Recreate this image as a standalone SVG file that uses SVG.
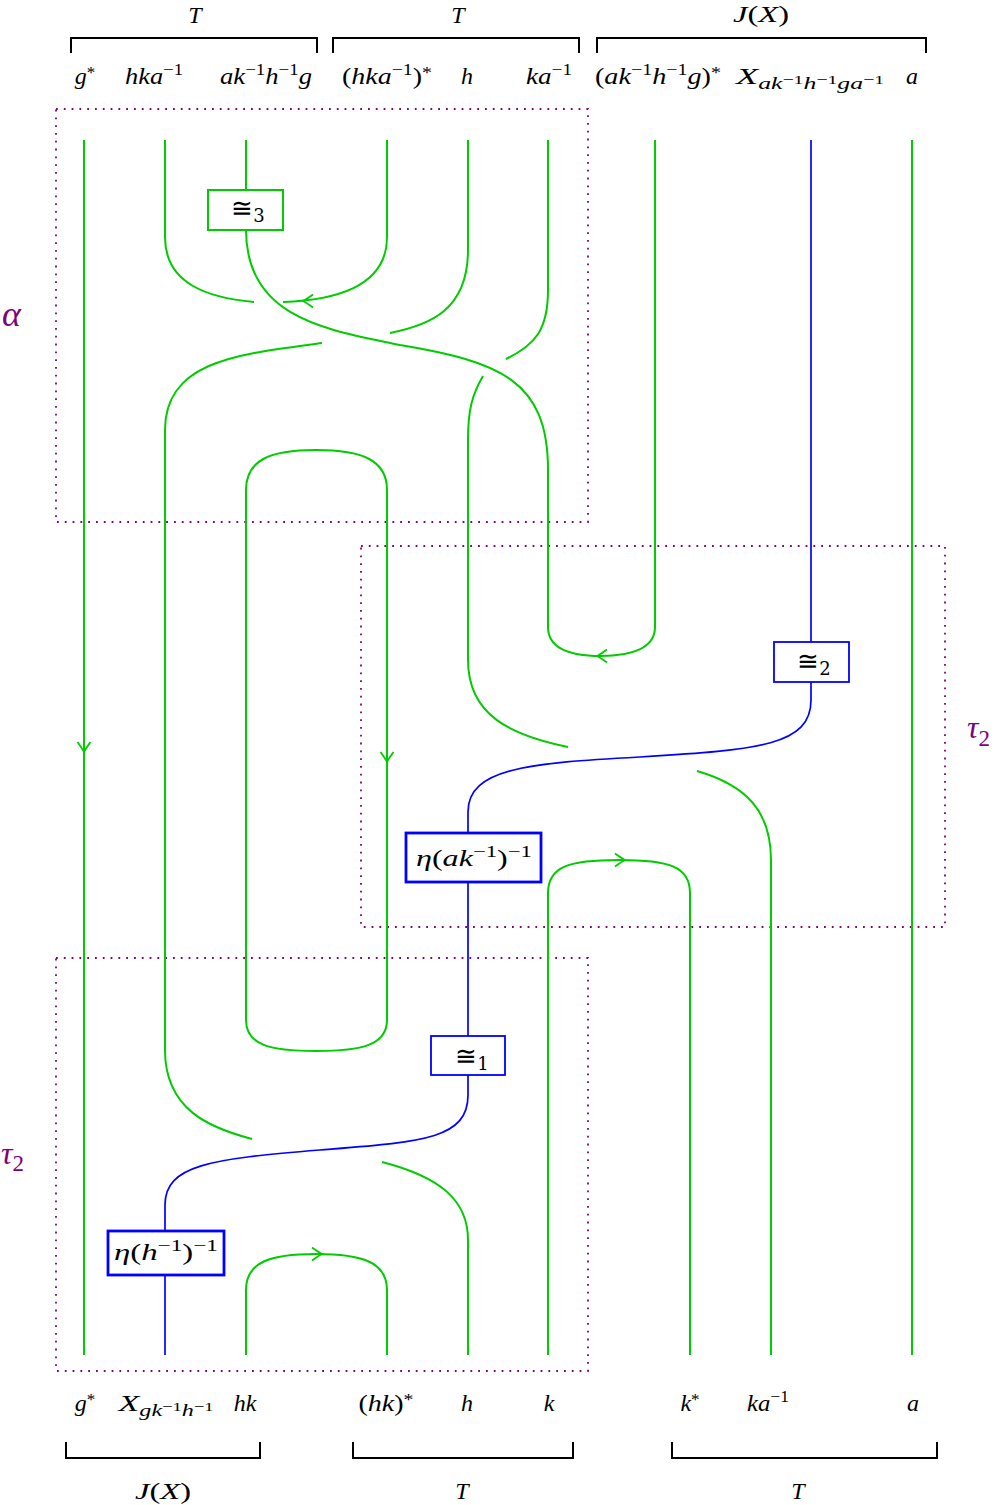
<svg xmlns="http://www.w3.org/2000/svg" xmlns:xlink="http://www.w3.org/1999/xlink" width="1000" height="1505" viewBox="0 0 1000 1505">
<style>
.g{fill:none;stroke:#00cc00;stroke-width:2}
.b{fill:none;stroke:#0000ff;stroke-width:1.7}
.bx{fill:#fff;stroke:#0000ff;stroke-width:1.8}
.bxt{fill:#fff;stroke:#0000ff;stroke-width:2.8}
.gx{fill:#fff;stroke:#00cc00;stroke-width:2}
.dot{fill:none;stroke:#800080;stroke-width:1.8;stroke-dasharray:1.8 6;stroke-linecap:butt}
.br{fill:none;stroke:#000;stroke-width:2}
.t{font-family:"Liberation Serif","DejaVu Serif",serif;font-style:italic;font-size:24px;fill:#000}
.u{font-style:normal}
.s{font-size:17px}
.ss{font-size:13px}
.iso{font-family:"DejaVu Serif","Liberation Serif",serif;font-size:26px;fill:#000}
.p{font-family:"Liberation Serif","DejaVu Serif",serif;font-style:italic;fill:#800080}
.ar{fill:none;stroke:#00cc00;stroke-width:1.8}
</style>
<defs>
<path id="ah" d="M-10,-6.5 Q-3,-1.5 0,0 Q-3,1.5 -10,6.5"/>
</defs>
<rect width="1000" height="1505" fill="#fff"/>

<g id="regions">
<rect class="dot" x="56" y="109" width="532" height="413"/>
<rect class="dot" x="361" y="546" width="584" height="381"/>
<rect class="dot" x="56" y="958" width="532" height="413"/>
<text class="p" x="2" y="326" font-size="36">α</text>
<text class="p" x="967" y="738" font-size="32">τ<tspan class="u" font-size="23" dy="8">2</tspan></text>
<text class="p" x="1" y="1164" font-size="32">τ<tspan class="u" font-size="23" dy="7">2</tspan></text>
</g>

<g id="brackets">
<path class="br" d="M71,53 V38 H317 V53"/>
<path class="br" d="M333,53 V38 H579 V53"/>
<path class="br" d="M597,53 V38 H926 V53"/>
<path class="br" d="M66,1442 V1458 H260 V1442"/>
<path class="br" d="M353,1442 V1458 H573 V1442"/>
<path class="br" d="M672,1442 V1458 H937 V1442"/>
</g>

<g id="connectors">
<path class="g" d="M84,140 L84,1355"/>
<path class="g" d="M912,140 L912,1355"/>
<path class="g" d="M165,140 L165,237 C165,285 210,298 254,302"/>
<path class="g" d="M283,302 C340,300 387,285 387,237 L387,140"/>
<path class="g" d="M246,140 L246,190"/>
<path class="g" d="M246,230 C246,320 330,330 400,345 C500,362 548,380 548,470 L548,627 C548,648 570,656 601,656 C632,656 655,648 655,627 L655,140"/>
<path class="g" d="M468,140 L468,250 C468,310 430,325 390,333"/>
<path class="g" d="M322,343 C240,354 165,360 165,430 L165,1050 C165,1110 210,1128 252,1139"/>
<path class="g" d="M382,1162 C440,1177 468,1200 468,1240 L468,1355"/>
<path class="g" d="M548,140 L548,290 C548,330 535,345 506,359"/>
<path class="g" d="M483,376 C472,395 468,410 468,440 L468,660 C468,715 510,735 568,747"/>
<path class="g" d="M697,771 C745,785 771,810 771,860 L771,1355"/>
<path class="g" d="M246,490 L246,1020 C246,1045 270,1051 316,1051 C362,1051 387,1045 387,1020 L387,490 C387,460 362,450 316,450 C270,450 246,460 246,490 Z"/>
<path class="g" d="M548,1355 L548,893 C548,866 570,860 619,860 C668,860 690,866 690,893 L690,1355"/>
<path class="g" d="M246,1355 L246,1290 C246,1262 270,1254 316,1254 C362,1254 387,1262 387,1290 L387,1355"/>
<path class="b" d="M811,140 L811,642"/>
<path class="b" d="M811,682 L811,700 C811,745 760,750 640,757 C530,763 468,768 468,812 L468,833"/>
<path class="b" d="M468,882 L468,1036"/>
<path class="b" d="M468,1075 L468,1095 C468,1140 420,1142 320,1150 C210,1159 165,1165 165,1205 L165,1231"/>
<path class="b" d="M165,1275 L165,1355"/>
<use xlink:href="#ah" class="ar" transform="translate(84,752) rotate(90)"/>
<use xlink:href="#ah" class="ar" transform="translate(387,762) rotate(90)"/>
<use xlink:href="#ah" class="ar" transform="translate(303,301) rotate(180)"/>
<use xlink:href="#ah" class="ar" transform="translate(597,656) rotate(180)"/>
<use xlink:href="#ah" class="ar" transform="translate(625,860)"/>
<use xlink:href="#ah" class="ar" transform="translate(322,1254)"/>
</g>

<g id="iso3">
<rect class="gx" x="208" y="190" width="75" height="40"/>
<text class="iso" x="248" y="217" text-anchor="middle">≅<tspan font-size="18" dy="5">3</tspan></text>
</g>
<g id="iso2">
<rect class="bx" x="774" y="642" width="75" height="40"/>
<text class="iso" x="814" y="670" text-anchor="middle">≅<tspan font-size="18" dy="5">2</tspan></text>
</g>
<g id="iso1">
<rect class="bx" x="431" y="1036" width="74" height="39"/>
<text class="iso" x="472" y="1065" text-anchor="middle">≅<tspan font-size="18" dy="5">1</tspan></text>
</g>
<g id="eta1">
<rect class="bxt" x="406" y="833" width="135" height="49"/>
<text class="t" x="474" y="866" text-anchor="middle" textLength="116" lengthAdjust="spacingAndGlyphs">η<tspan class="u">(</tspan>ak<tspan class="u s" dy="-9">−1</tspan><tspan class="u" dy="9">)</tspan><tspan class="u s" dy="-9">−1</tspan></text>
</g>
<g id="eta2">
<rect class="bxt" x="108" y="1231" width="116" height="44"/>
<text class="t" x="166" y="1260" text-anchor="middle" textLength="104" lengthAdjust="spacingAndGlyphs">η<tspan class="u">(</tspan>h<tspan class="u s" dy="-9">−1</tspan><tspan class="u" dy="9">)</tspan><tspan class="u s" dy="-9">−1</tspan></text>
</g>

<g id="labels" class="t">
<text x="195" y="23" text-anchor="middle">T</text>
<text x="458" y="23" text-anchor="middle">T</text>
<text x="761" y="22" text-anchor="middle" textLength="56" lengthAdjust="spacingAndGlyphs">J<tspan class="u">(</tspan>X<tspan class="u">)</tspan></text>
<text x="163" y="1499" text-anchor="middle" textLength="56" lengthAdjust="spacingAndGlyphs">J<tspan class="u">(</tspan>X<tspan class="u">)</tspan></text>
<text x="462" y="1499" text-anchor="middle">T</text>
<text x="798" y="1499" text-anchor="middle">T</text>

<text x="85" y="84" text-anchor="middle">g<tspan class="u s" dy="-6">*</tspan></text>
<text x="154" y="84" text-anchor="middle" textLength="58" lengthAdjust="spacingAndGlyphs">hka<tspan class="u s" dy="-9">−1</tspan></text>
<text x="266" y="84" text-anchor="middle" textLength="92" lengthAdjust="spacingAndGlyphs">ak<tspan class="u s" dy="-9">−1</tspan><tspan dy="9">h</tspan><tspan class="u s" dy="-9">−1</tspan><tspan dy="9">g</tspan></text>
<text x="387" y="84" text-anchor="middle" textLength="90" lengthAdjust="spacingAndGlyphs"><tspan class="u">(</tspan>hka<tspan class="u s" dy="-9">−1</tspan><tspan class="u" dy="9">)</tspan><tspan class="u s" dy="-6">*</tspan></text>
<text x="467" y="84" text-anchor="middle">h</text>
<text x="549" y="84" text-anchor="middle" textLength="46" lengthAdjust="spacingAndGlyphs">ka<tspan class="u s" dy="-9">−1</tspan></text>
<text x="658" y="84" text-anchor="middle" textLength="126" lengthAdjust="spacingAndGlyphs"><tspan class="u">(</tspan>ak<tspan class="u s" dy="-9">−1</tspan><tspan dy="9">h</tspan><tspan class="u s" dy="-9">−1</tspan><tspan dy="9">g</tspan><tspan class="u">)</tspan><tspan class="u s" dy="-6">*</tspan></text>
<text x="810" y="84" text-anchor="middle" textLength="148" lengthAdjust="spacingAndGlyphs">X<tspan class="s" dy="5">ak</tspan><tspan class="u ss" dy="-5">−1</tspan><tspan class="s" dy="5">h</tspan><tspan class="u ss" dy="-5">−1</tspan><tspan class="s" dy="5">ga</tspan><tspan class="u ss" dy="-5">−1</tspan></text>
<text x="912" y="84" text-anchor="middle">a</text>

<text x="85" y="1411" text-anchor="middle">g<tspan class="u s" dy="-6">*</tspan></text>
<text x="166" y="1411" text-anchor="middle" textLength="95" lengthAdjust="spacingAndGlyphs">X<tspan class="s" dy="5">gk</tspan><tspan class="u ss" dy="-5">−1</tspan><tspan class="s" dy="5">h</tspan><tspan class="u ss" dy="-5">−1</tspan></text>
<text x="245" y="1411" text-anchor="middle">hk</text>
<text x="386" y="1411" text-anchor="middle" textLength="55" lengthAdjust="spacingAndGlyphs"><tspan class="u">(</tspan>hk<tspan class="u">)</tspan><tspan class="u s" dy="-6">*</tspan></text>
<text x="467" y="1411" text-anchor="middle">h</text>
<text x="549" y="1411" text-anchor="middle">k</text>
<text x="690" y="1411" text-anchor="middle">k<tspan class="u s" dy="-6">*</tspan></text>
<text x="768" y="1411" text-anchor="middle" textLength="42" lengthAdjust="spacingAndGlyphs">ka<tspan class="u s" dy="-9">−1</tspan></text>
<text x="913" y="1411" text-anchor="middle">a</text>
</g>
</svg>
